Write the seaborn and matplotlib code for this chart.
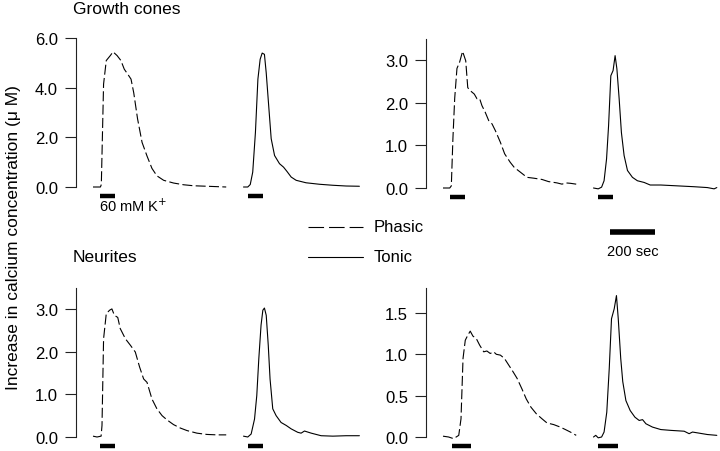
import matplotlib
matplotlib.use('Agg')
import matplotlib.pyplot as plt
import matplotlib.transforms as mtransforms
from matplotlib.lines import Line2D
import pandas as pd
import seaborn as sns

#########################
# TRACES (read off fig) #
#########################
# time in s from start of each record, increase in [Ca2+] in uM

gc_phasic_t = [0, 33, 37, 47, 59, 77, 89, 107, 124, 139, 158, 169, 181, 198, 218, 240, 262, 284, 314, 358, 403, 447, 506, 592]
gc_phasic_y = [0.0, 0.0, 0.1, 4.15, 5.1, 5.3, 5.45, 5.3, 5.1, 4.75, 4.5, 4.35, 3.8, 2.75, 1.8, 1.25, 0.75, 0.45, 0.27, 0.16, 0.09, 0.05, 0.03, 0.0]

gc_tonic_t = [0, 19, 30, 41, 53, 64, 74, 83, 93, 101, 113, 123, 138, 160, 178, 193, 212, 234, 278, 338, 397, 456, 515]
gc_tonic_y = [0.0, 0.0, 0.1, 0.6, 2.2, 4.35, 5.15, 5.4, 5.35, 4.6, 3.15, 1.95, 1.27, 0.94, 0.8, 0.63, 0.4, 0.27, 0.17, 0.11, 0.07, 0.04, 0.03]

gc2_phasic_t = [0, 30, 37, 44, 52, 62, 74, 87, 101, 110, 121, 139, 151, 163, 173, 188, 203, 218, 233, 255, 274, 299, 317, 344, 373, 403, 440, 469, 506, 529, 544, 566, 592]
gc2_phasic_y = [0.0, 0.0, 0.05, 1.15, 2.1, 2.8, 2.95, 3.2, 2.98, 2.35, 2.28, 2.2, 2.09, 2.09, 1.93, 1.77, 1.58, 1.5, 1.34, 1.07, 0.8, 0.6, 0.48, 0.37, 0.25, 0.23, 0.2, 0.15, 0.12, 0.09, 0.12, 0.11, 0.09]

gc2_tonic_t = [0, 21, 36, 47, 58, 67, 77, 87, 96, 104, 114, 124, 136, 151, 173, 195, 225, 252, 299, 373, 447, 506, 536, 548]
gc2_tonic_y = [0.0, -0.02, 0.02, 0.17, 0.68, 1.46, 2.63, 2.75, 3.1, 2.79, 2.09, 1.3, 0.76, 0.41, 0.25, 0.17, 0.13, 0.07, 0.07, 0.05, 0.03, 0.01, -0.02, 0.01]

nr_phasic_t = [0, 18, 36, 40, 47, 59, 74, 84, 95, 110, 121, 144, 166, 188, 207, 225, 240, 262, 284, 307, 329, 358, 388, 418, 462, 506, 551, 592]
nr_phasic_y = [0.02, 0.0, 0.02, 0.27, 2.3, 2.89, 2.97, 3.0, 2.85, 2.8, 2.54, 2.3, 2.15, 1.99, 1.64, 1.36, 1.28, 0.89, 0.66, 0.5, 0.4, 0.29, 0.21, 0.15, 0.09, 0.06, 0.05, 0.05]

nr_tonic_t = [0, 19, 34, 49, 59, 68, 78, 86, 93, 101, 110, 118, 130, 145, 167, 190, 212, 241, 256, 271, 301, 345, 397, 456, 515]
nr_tonic_y = [0.02, 0.0, 0.07, 0.42, 0.97, 1.83, 2.62, 2.97, 3.02, 2.85, 2.15, 1.36, 0.66, 0.5, 0.34, 0.27, 0.19, 0.11, 0.09, 0.14, 0.09, 0.03, 0.02, 0.03, 0.03]

nr2_phasic_t = [0, 25, 47, 70, 80, 89, 99, 110, 121, 133, 148, 163, 181, 195, 210, 225, 237, 255, 273, 292, 311, 329, 351, 370, 391, 415, 440, 462, 492, 521, 544, 566, 592]
nr2_phasic_y = [0.01, 0.0, -0.02, 0.02, 0.22, 0.95, 1.17, 1.23, 1.28, 1.22, 1.19, 1.11, 1.03, 1.04, 1.01, 1.03, 1.0, 0.99, 0.95, 0.87, 0.79, 0.71, 0.58, 0.46, 0.36, 0.28, 0.22, 0.17, 0.15, 0.12, 0.09, 0.06, 0.02]

nr2_tonic_t = [0, 10, 21, 36, 47, 59, 70, 80, 92, 102, 110, 121, 130, 144, 163, 184, 203, 218, 233, 262, 299, 344, 403, 425, 440, 462, 506, 548]
nr2_tonic_y = [0.0, 0.02, -0.01, 0.0, 0.06, 0.3, 0.83, 1.43, 1.55, 1.71, 1.43, 0.95, 0.67, 0.44, 0.32, 0.24, 0.2, 0.21, 0.16, 0.12, 0.09, 0.08, 0.07, 0.04, 0.06, 0.05, 0.03, 0.02]

# 60 mM K+ application (start, end), s from start of record
gc_stim = [(33, 99), (19, 86)]
gc2_stim = [(33, 99), (21, 87)]
nr_stim = [(33, 99), (19, 86)]
nr2_stim = [(40, 126), (21, 111)]

gc_ticks = [0.0, 2.0, 4.0, 6.0]
gc2_ticks = [0.0, 1.0, 2.0, 3.0]
nr_ticks = [0.0, 1.0, 2.0, 3.0]
nr2_ticks = [0.0, 0.5, 1.0, 1.5]

scale_sec = 200

##########
# LAYOUT #
##########
W, H = 720, 452
SEC_PER_PX = 4.444
PHASIC_OFF = 17 * SEC_PER_PX
TONIC_OFF = 167.5 * SEC_PER_PX
DASH = (0, (9, 3))
LEG_DASH = (0, (14, 4.5))

sns.set_style('white')
plt.rcParams['font.family'] = ['Liberation Sans', 'DejaVu Sans']
plt.rcParams['text.color'] = 'black'
plt.rcParams['ytick.color'] = 'black'
plt.rcParams['ytick.labelcolor'] = 'black'

fig = plt.figure(figsize=(W / 100, H / 100), dpi=100)

# spine x, zero y, px per uM, top value
panels = [
    dict(x=76, zero=188, ppu=24.8, top=6.0, ticks=gc_ticks, stim=gc_stim,
         tr=[(gc_phasic_t, gc_phasic_y), (gc_tonic_t, gc_tonic_y)]),
    dict(x=426, zero=189, ppu=42.7, top=3.5, ticks=gc2_ticks, stim=gc2_stim,
         tr=[(gc2_phasic_t, gc2_phasic_y), (gc2_tonic_t, gc2_tonic_y)]),
    dict(x=76, zero=438, ppu=42.7, top=3.5, ticks=nr_ticks, stim=nr_stim,
         tr=[(nr_phasic_t, nr_phasic_y), (nr_tonic_t, nr_tonic_y)]),
    dict(x=426, zero=438, ppu=82.7, top=1.8, ticks=nr2_ticks, stim=nr2_stim,
         tr=[(nr2_phasic_t, nr2_phasic_y), (nr2_tonic_t, nr2_tonic_y)]),
]

axes = []
for p in panels:
    top_px = p['zero'] - p['top'] * p['ppu']
    bot_px = p['zero'] + 14
    w_px = 292
    ax = fig.add_axes([p['x'] / W, (H - bot_px) / H, w_px / W, (bot_px - top_px) / H])
    ax.set_xlim(0, w_px * SEC_PER_PX)
    ax.set_ylim(-14 / p['ppu'], p['top'])
    ax.patch.set_alpha(0)

    for (t, y), off, ls in zip(p['tr'], [PHASIC_OFF, TONIC_OFF], [DASH, '-']):
        df = pd.DataFrame({'t': [v + off for v in t], 'ca': y})
        sns.lineplot(data=df, x='t', y='ca', ax=ax, color='k', lw=0.8,
                     linestyle=ls, estimator=None, sort=False)

    ybar = -8.5 / p['ppu']
    for (s0, s1), off in zip(p['stim'], [PHASIC_OFF, TONIC_OFF]):
        ax.plot([s0 + off, s1 + off], [ybar, ybar], color='k', lw=3.2,
                solid_capstyle='butt', clip_on=False)

    for s in ['top', 'right', 'bottom']:
        ax.spines[s].set_visible(False)
    ax.spines['left'].set_bounds(0, p['top'])
    ax.spines['left'].set_linewidth(0.8)
    ax.spines['left'].set_color('#222222')
    ax.set_xticks([])
    ax.set_yticks(p['ticks'])
    ax.set_yticklabels(['%.1f' % v for v in p['ticks']])
    ax.tick_params(axis='y', left=True, length=8, width=0.8, pad=5,
                   labelsize=12, color='#222222')
    ax.set_xlabel('')
    ax.set_ylabel('')
    axes.append(ax)

def fx(px):
    return px / W

def fy(py):
    return 1 - py / H

fig.text(fx(73), fy(10), 'Growth cones', fontsize=12.5, ha='left', va='center')
fig.text(fx(73), fy(257), 'Neurites', fontsize=12.5, ha='left', va='center')
fig.text(fx(99), fy(206), '60 mM K$^{+}$', fontsize=10.5, ha='left', va='center')
fig.text(fx(14), fy(238), 'Increase in calcium concentration (\u03bc M)',
         fontsize=12.5, rotation=90, ha='center', va='center')

# legend drawn by hand
for yy, ls, lab in [(228, LEG_DASH, 'Phasic'), (258, '-', 'Tonic')]:
    fig.add_artist(Line2D([fx(308), fx(363)], [fy(yy), fy(yy)], color='k', lw=0.8, linestyle=ls))
    fig.text(fx(374), fy(yy), lab, fontsize=12, ha='left', va='center')

# 200 sec scale bar on the lower right panel's time scale
ax = axes[3]
trans = mtransforms.blended_transform_factory(ax.transData, fig.transFigure)
x0 = (610 - 426) * SEC_PER_PX
ax.plot([x0, x0 + scale_sec], [fy(233), fy(233)], color='k', lw=4,
        solid_capstyle='butt', transform=trans, clip_on=False)
ax.text(x0 + scale_sec / 2, fy(252), '%d sec' % scale_sec, transform=trans,
        fontsize=10.5, ha='center', va='center')

plt.savefig('out.png', dpi=100)
